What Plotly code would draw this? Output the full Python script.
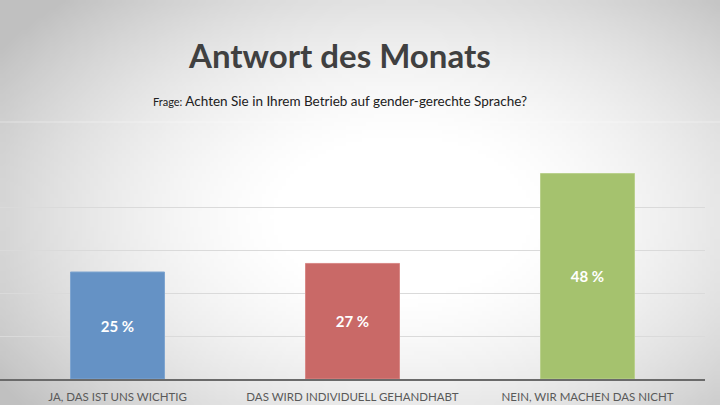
import base64
import struct
import zlib

import numpy as np
import plotly.graph_objects as go

categories = ["JA, DAS IST UNS WICHTIG", "DAS WIRD INDIVIDUELL GEHANDHABT", "NEIN, WIR MACHEN DAS NICHT"]
values = [25, 27, 48]
value_labels = ["25 %", "27 %", "48 %"]
bar_colors = ["#6592c5", "#c96967", "#a5c26e"]
line_colors = ["#7fa5d0", "#d88886", "#b9d08c"]

W, H = 720, 405
ML, MR, MT, MB = 0, 15, 165, 26
PW, PH = W - ML - MR, H - MT - MB


def gradient_png(w, h):
    # radial background, white in the middle, grey towards the corners
    yy, xx = np.mgrid[0:h, 0:w]
    sx, sy = W / w, H / h
    t = np.sqrt(((xx * sx - 400) / 480) ** 2 + ((yy * sy - 215) / 300) ** 2)
    g = np.clip(260 - 66 * t ** 2, 192, 255).astype(np.uint8)
    raw = b"".join(b"\x00" + g[r].tobytes() for r in range(h))

    def chunk(tag, data):
        c = tag + data
        return struct.pack(">I", len(data)) + c + struct.pack(">I", zlib.crc32(c) & 0xFFFFFFFF)

    png = b"\x89PNG\r\n\x1a\n"
    png += chunk(b"IHDR", struct.pack(">IIBBBBB", w, h, 8, 0, 0, 0, 0))
    png += chunk(b"IDAT", zlib.compress(raw, 9))
    png += chunk(b"IEND", b"")
    return "data:image/png;base64," + base64.b64encode(png).decode()


def px(x):
    return (x - ML) / PW


def py(y):
    return (H - MB - y) / PH


fig = go.Figure(go.Bar(
    x=categories,
    y=values,
    text=value_labels,
    textposition="inside",
    insidetextanchor="middle",
    textfont=dict(family="Lato", size=15, color="white", weight="bold"),
    marker=dict(color=bar_colors, line=dict(color=line_colors, width=1)),
    width=0.4,
    hoverinfo="skip",
))

fig.add_layout_image(dict(
    source=gradient_png(180, 101),
    xref="paper", yref="paper",
    x=px(0), y=py(0),
    sizex=W / PW, sizey=H / PH,
    xanchor="left", yanchor="top",
    sizing="stretch",
    layer="below",
))

fig.add_annotation(
    text="<b>Antwort des Monats</b>",
    xref="paper", yref="paper", x=px(339), y=py(55),
    showarrow=False, xanchor="center", yanchor="middle",
    font=dict(family="Lato", size=33, color="#404040"),
)
fig.add_annotation(
    text="<span style='font-size:11px'>Frage:</span> Achten Sie in Ihrem Betrieb auf gender-gerechte Sprache?",
    xref="paper", yref="paper", x=px(340), y=py(101),
    showarrow=False, xanchor="center", yanchor="middle",
    font=dict(family="Lato", size=13.5, color="#202020"),
)
# faint edge of the chart area
fig.add_shape(type="line", xref="paper", yref="paper",
              x0=px(0), x1=px(720), y0=py(122), y1=py(122),
              line=dict(color="rgba(255,255,255,0.4)", width=1), layer="below")

fig.update_layout(
    width=W, height=H,
    margin=dict(l=ML, r=MR, t=MT, b=MB),
    paper_bgcolor="rgba(0,0,0,0)",
    plot_bgcolor="rgba(0,0,0,0)",
    showlegend=False,
    bargap=0.6,
)
fig.update_xaxes(
    showgrid=False, showline=True, linecolor="#6a6a6a", linewidth=1.5,
    ticks="", tickfont=dict(family="Lato", size=11.5, color="#595959"),
    ticklabelstandoff=6, fixedrange=True,
)
fig.update_yaxes(
    range=[0, 50], dtick=10, showgrid=True, gridcolor="#dadada", gridwidth=1,
    showticklabels=False, zeroline=False, fixedrange=True,
)

fig.write_html("out.html", config={"displayModeBar": False},
               post_script="document.body.style.margin='0';")
